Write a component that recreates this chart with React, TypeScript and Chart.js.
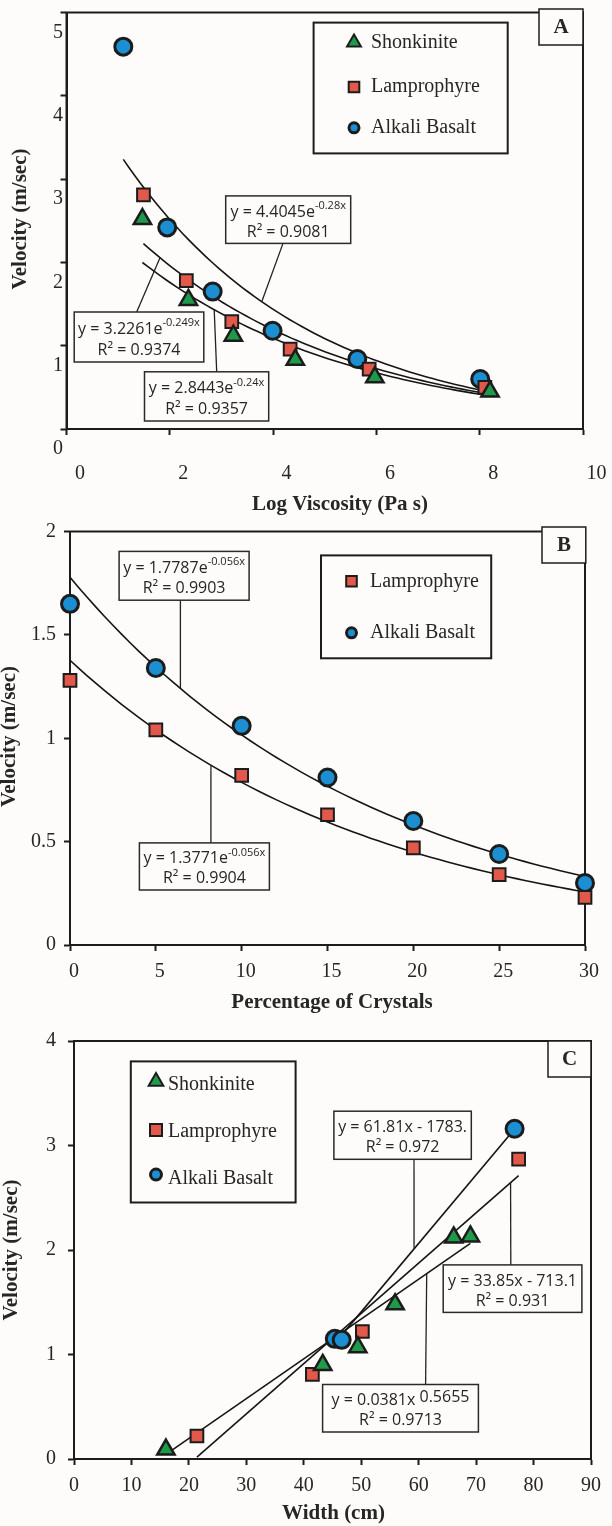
import React, { useEffect, useRef } from 'react';
import { Chart, registerables } from 'chart.js';

Chart.register(...registerables);

const GREEN = '#1f9a4b';
const RED = '#e2584a';
const BLUE = '#1b8fd2';
const INK = '#1c1c1c';
const TEXT = '#262626';
const PAPER = '#fdfcfa';
const SERIF = '"Liberation Serif", "Times New Roman", serif';
const SANS = '"Open Sans", "Liberation Sans", sans-serif';

// ---- Panel A: velocity against log viscosity ----
const viscTicks = [0, 2, 4, 6, 8, 10];
const velTicksA = [0, 1, 2, 3, 4, 5];
const shonkViscX = [1.47, 2.36, 3.23, 4.43, 5.97, 8.2];
const shonkViscV = [2.52, 1.55, 1.12, 0.83, 0.62, 0.45];
const lampViscX = [1.49, 2.32, 3.2, 4.33, 5.86, 8.1];
const lampViscV = [2.81, 1.78, 1.29, 0.96, 0.72, 0.5];
const basaltViscX = [1.1, 1.95, 2.83, 3.99, 5.63, 8.01];
const basaltViscV = [4.59, 2.42, 1.65, 1.18, 0.84, 0.6];
const shonkViscFit = [2.8443, -0.24];
const lampViscFit = [3.2261, -0.249];
const basaltViscFit = [4.4045, -0.28];

// ---- Panel B: velocity against crystal content ----
const crystalTicks = [0, 5, 10, 15, 20, 25, 30];
const velTicksB = [0, 0.5, 1, 1.5, 2];
const crystalPct = [0, 5, 10, 15, 20, 25, 30];
const lampCrystalV = [1.28, 1.04, 0.82, 0.63, 0.47, 0.34, 0.23];
const basaltCrystalV = [1.65, 1.34, 1.06, 0.81, 0.6, 0.44, 0.3];
const lampCrystalFit = [1.3771, -0.056];
const basaltCrystalFit = [1.7787, -0.056];

// ---- Panel C: velocity against dike width ----
const widthTicks = [0, 10, 20, 30, 40, 50, 60, 70, 80, 90];
const velTicksC = [0, 1, 2, 3, 4];
const shonkWidthX = [16, 43.3, 49.4, 55.9, 66.1, 69];
const shonkWidthV = [0.09, 0.9, 1.07, 1.48, 2.12, 2.13];
const lampWidthX = [21.4, 41.5, 50.2, 77.4];
const lampWidthV = [0.22, 0.81, 1.22, 2.87];
const basaltWidthX = [45.4, 46.6, 76.7];
const basaltWidthV = [1.15, 1.14, 3.16];
const shonkWidthFit = [0.0381, -0.5655];

type Fn = (x: number) => number;
const expFn = ([a, b]: number[]): Fn => (x) => a * Math.exp(b * x);
const linFn = ([m, c]: number[]): Fn => (x) => m * x + c;

function leastSquares(xs: number[], ys: number[]): number[] {
  const n = xs.length;
  const mx = xs.reduce((s, v) => s + v, 0) / n;
  const my = ys.reduce((s, v) => s + v, 0) / n;
  let sxy = 0;
  let sxx = 0;
  xs.forEach((x, i) => {
    sxy += (x - mx) * (ys[i] - my);
    sxx += (x - mx) * (x - mx);
  });
  const m = sxy / sxx;
  return [m, my - m * mx];
}
const lampWidthFit = leastSquares(lampWidthX, lampWidthV);
const basaltWidthFit = leastSquares(basaltWidthX, basaltWidthV);

const zip = (xs: number[], ys: number[]) => xs.map((x, i) => ({ x, y: ys[i] }));

function trendPoints(fn: Fn, xs: number[], n = 60) {
  const lo = Math.min(...xs);
  const hi = Math.max(...xs);
  const pts = [];
  for (let i = 0; i <= n; i++) {
    const x = lo + ((hi - lo) * i) / n;
    pts.push({ x, y: fn(x) });
  }
  return pts;
}

type Style = 'triangle' | 'rect' | 'circle';
const markerLook: Record<Style, { r: number; bw: number; color: string }> = {
  triangle: { r: 10, bw: 2.5, color: GREEN },
  rect: { r: 9, bw: 2, color: RED },
  circle: { r: 8.5, bw: 3, color: BLUE },
};

function markerSet(label: string, data: { x: number; y: number }[], style: Style) {
  const m = markerLook[style];
  return {
    type: 'scatter',
    label,
    data,
    showLine: false,
    pointStyle: style,
    pointRadius: m.r,
    pointHoverRadius: m.r,
    pointBackgroundColor: m.color,
    pointBorderColor: INK,
    pointBorderWidth: m.bw,
    clip: false,
    order: 0,
  };
}

function trendSet(pts: { x: number; y: number }[]) {
  return {
    type: 'scatter',
    data: pts,
    showLine: true,
    pointRadius: 0,
    borderColor: '#151515',
    borderWidth: 1.6,
    tension: 0,
    fill: false,
    clip: false,
    order: 1,
  };
}

interface AxisSpec {
  min: number;
  max: number;
  ticks: number[];
  size: number;
  pad: number;
  offset: number;
}

const TICK_SIZE = 20;

function axis(spec: AxisSpec, isX: boolean) {
  return {
    type: 'linear',
    position: isX ? 'bottom' : 'left',
    min: spec.min,
    max: spec.max,
    afterBuildTicks: (s: any) => {
      s.ticks = spec.ticks.map((v) => ({ value: v }));
    },
    afterFit: (s: any) => {
      if (isX) s.height = spec.size;
      else s.width = spec.size;
      s.paddingTop = 0;
      s.paddingBottom = 0;
      s.paddingLeft = 0;
      s.paddingRight = 0;
    },
    grid: {
      display: true,
      drawOnChartArea: false,
      drawTicks: true,
      tickLength: 6,
      tickWidth: 2,
      tickColor: INK,
    },
    border: { display: true, color: INK, width: 2 },
    ticks: {
      font: { family: SERIF, size: TICK_SIZE },
      color: TEXT,
      padding: spec.pad,
      labelOffset: spec.offset,
      maxRotation: 0,
      autoSkip: false,
      callback: (v: number) => String(v),
    },
    title: { display: false },
  };
}

type Box = [number, number, number, number];
interface EqNote {
  box: Box;
  main: string;
  sup?: string;
  supSize?: number;
  supRise?: number;
  r2: string;
  from: [number, number];
  fn: Fn;
  at: number;
}
interface LegendItem {
  style: Style;
  label: string;
  y: number;
  dy?: number;
  size: number;
}
interface Deco {
  letter: { text: string; box: Box };
  legend: { box: Box; markerX: number; textX: number; items: LegendItem[] };
  eqs: EqNote[];
  xTitle: { text: string; x: number; y: number };
  yTitle: { text: string; x: number; y: number };
}

function drawMarker(ctx: CanvasRenderingContext2D, style: Style, x: number, y: number, size: number) {
  const m = markerLook[style];
  ctx.beginPath();
  if (style === 'triangle') {
    const h = size * Math.sin(Math.PI / 3);
    ctx.moveTo(x, y - size);
    ctx.lineTo(x + h, y + size / 2);
    ctx.lineTo(x - h, y + size / 2);
    ctx.closePath();
  } else if (style === 'rect') {
    ctx.rect(x - size, y - size, size * 2, size * 2);
  } else {
    ctx.arc(x, y, size, 0, Math.PI * 2);
  }
  ctx.fillStyle = m.color;
  ctx.fill();
  ctx.lineWidth = style === 'circle' ? 3 : 2;
  ctx.lineJoin = 'miter';
  ctx.strokeStyle = INK;
  ctx.stroke();
}

const EQ_SIZE = 16;
const EQ_SUP = 11;

function makeDeco(d: Deco) {
  return {
    id: 'deco',
    beforeDatasetsDraw(chart: any) {
      const { ctx, chartArea: ca } = chart;
      ctx.save();
      ctx.strokeStyle = INK;
      ctx.lineWidth = 2;
      ctx.strokeRect(ca.left, ca.top, ca.right - ca.left, ca.bottom - ca.top);
      // leader lines from the equation boxes to their trend lines
      ctx.lineWidth = 1.3;
      ctx.strokeStyle = '#222';
      d.eqs.forEach((e) => {
        const tx = chart.scales.x.getPixelForValue(e.at);
        const ty = chart.scales.y.getPixelForValue(e.fn(e.at));
        ctx.beginPath();
        ctx.moveTo(e.from[0], e.from[1]);
        ctx.lineTo(tx, ty);
        ctx.stroke();
      });
      ctx.restore();
    },
    afterDraw(chart: any) {
      const ctx: CanvasRenderingContext2D = chart.ctx;
      ctx.save();

      // panel letter
      const [lx1, ly1, lx2, ly2] = d.letter.box;
      ctx.fillStyle = PAPER;
      ctx.fillRect(lx1, ly1, lx2 - lx1, ly2 - ly1);
      ctx.strokeStyle = INK;
      ctx.lineWidth = 1.5;
      ctx.strokeRect(lx1, ly1, lx2 - lx1, ly2 - ly1);
      ctx.fillStyle = TEXT;
      ctx.font = `bold 21px ${SERIF}`;
      ctx.textAlign = 'center';
      ctx.textBaseline = 'middle';
      ctx.fillText(d.letter.text, (lx1 + lx2) / 2, (ly1 + ly2) / 2 + 1);

      // legend
      const lg = d.legend;
      const [gx1, gy1, gx2, gy2] = lg.box;
      ctx.fillStyle = PAPER;
      ctx.fillRect(gx1, gy1, gx2 - gx1, gy2 - gy1);
      ctx.strokeStyle = INK;
      ctx.lineWidth = 2;
      ctx.strokeRect(gx1, gy1, gx2 - gx1, gy2 - gy1);
      lg.items.forEach((it) => {
        drawMarker(ctx, it.style, lg.markerX, it.y + (it.dy || 0), it.size);
        ctx.fillStyle = TEXT;
        ctx.font = `20px ${SERIF}`;
        ctx.textAlign = 'left';
        ctx.textBaseline = 'middle';
        ctx.fillText(it.label, lg.textX, it.y);
      });

      // trend-line equations
      d.eqs.forEach((e) => {
        const [x1, y1, x2, y2] = e.box;
        ctx.fillStyle = PAPER;
        ctx.fillRect(x1, y1, x2 - x1, y2 - y1);
        ctx.strokeStyle = '#2a2a2a';
        ctx.lineWidth = 1.5;
        ctx.strokeRect(x1, y1, x2 - x1, y2 - y1);
        const cx = (x1 + x2) / 2;
        const h = y2 - y1;
        const mainFont = `${EQ_SIZE}px ${SANS}`;
        const supFont = `${e.supSize || EQ_SUP}px ${SANS}`;
        ctx.font = mainFont;
        const wMain = ctx.measureText(e.main).width;
        ctx.font = supFont;
        const wSup = e.sup ? ctx.measureText(e.sup).width : 0;
        const start = cx - (wMain + wSup) / 2;
        const l1 = y1 + h * 0.34;
        ctx.fillStyle = TEXT;
        ctx.textBaseline = 'middle';
        ctx.textAlign = 'left';
        ctx.font = mainFont;
        ctx.fillText(e.main, start, l1);
        if (e.sup) {
          ctx.font = supFont;
          ctx.fillText(e.sup, start + wMain, l1 - (e.supRise ?? 6));
        }
        ctx.font = mainFont;
        ctx.textAlign = 'center';
        ctx.fillText(e.r2, cx, y1 + h * 0.76);
      });

      // axis titles
      ctx.fillStyle = TEXT;
      ctx.font = `bold 21px ${SERIF}`;
      ctx.textAlign = 'center';
      ctx.textBaseline = 'middle';
      ctx.fillText(d.xTitle.text, d.xTitle.x, d.xTitle.y);
      ctx.translate(d.yTitle.x, d.yTitle.y);
      ctx.rotate(-Math.PI / 2);
      ctx.fillText(d.yTitle.text, 0, 0);

      ctx.restore();
    },
  };
}

interface PanelSpec {
  height: number;
  padding: { top: number; right: number };
  x: AxisSpec;
  y: AxisSpec;
  datasets: any[];
  deco: Deco;
}

function Panel({ top, spec }: { top: number; spec: PanelSpec }) {
  const ref = useRef<HTMLCanvasElement>(null);
  useEffect(() => {
    const chart = new Chart(ref.current as HTMLCanvasElement, {
      type: 'scatter',
      data: { datasets: spec.datasets },
      options: {
        responsive: false,
        animation: false,
        devicePixelRatio: 1,
        layout: { padding: { left: 0, bottom: 0, top: spec.padding.top, right: spec.padding.right } },
        plugins: { legend: { display: false }, tooltip: { enabled: false } },
        events: [],
        scales: { x: axis(spec.x, true), y: axis(spec.y, false) },
      } as any,
      plugins: [makeDeco(spec.deco)],
    } as any);
    return () => chart.destroy();
  }, []);
  return (
    <canvas
      ref={ref}
      width={612}
      height={spec.height}
      style={{ position: 'absolute', left: 0, top, width: 612, height: spec.height }}
    />
  );
}

const fA = { shonk: expFn(shonkViscFit), lamp: expFn(lampViscFit), basalt: expFn(basaltViscFit) };
const panelA: PanelSpec = {
  height: 520,
  padding: { top: 9, right: 29 },
  x: { min: 0, max: 10, ticks: viscTicks, size: 91, pad: 27, offset: 13.5 },
  y: { min: 0, max: 5, ticks: velTicksA, size: 66.5, pad: -2.5, offset: 20 },
  datasets: [
    markerSet('Shonkinite', zip(shonkViscX, shonkViscV), 'triangle'),
    markerSet('Lamprophyre', zip(lampViscX, lampViscV), 'rect'),
    markerSet('Alkali Basalt', zip(basaltViscX, basaltViscV), 'circle'),
    trendSet(trendPoints(fA.shonk, shonkViscX)),
    trendSet(trendPoints(fA.lamp, lampViscX)),
    trendSet(trendPoints(fA.basalt, basaltViscX)),
  ],
  deco: {
    letter: { text: 'A', box: [539, 9, 583, 45] },
    legend: {
      box: [313.6, 22.6, 507.7, 153.4],
      markerX: 354,
      textX: 371,
      items: [
        { style: 'triangle', label: 'Shonkinite', y: 42.5, size: 8 },
        { style: 'rect', label: 'Lamprophyre', y: 87, size: 5.3 },
        { style: 'circle', label: 'Alkali Basalt', y: 127.8, size: 5 },
      ],
    },
    eqs: [
      { box: [225.7, 195.9, 350.7, 243.4], main: 'y = 4.4045e', sup: '-0.28x', r2: 'R² = 0.9081', from: [283, 243.4], fn: fA.basalt, at: 3.78 },
      { box: [74.2, 312, 203.8, 362], main: 'y = 3.2261e', sup: '-0.249x', r2: 'R² = 0.9374', from: [136.7, 312], fn: fA.lamp, at: 1.81 },
      { box: [144.5, 371.8, 268.7, 421], main: 'y = 2.8443e', sup: '-0.24x', r2: 'R² = 0.9357', from: [216.7, 371.8], fn: fA.shonk, at: 2.86 },
    ],
    xTitle: { text: 'Log Viscosity (Pa s)', x: 340, y: 505 },
    yTitle: { text: 'Velocity (m/sec)', x: 21, y: 219 },
  },
};

const fB = { lamp: expFn(lampCrystalFit), basalt: expFn(basaltCrystalFit) };
const panelB: PanelSpec = {
  height: 495,
  padding: { top: 8, right: 27 },
  x: { min: 0, max: 30, ticks: crystalTicks, size: 70, pad: 9, offset: 4 },
  y: { min: 0, max: 2, ticks: velTicksB, size: 70, pad: 8, offset: 0 },
  datasets: [
    markerSet('Lamprophyre', zip(crystalPct, lampCrystalV), 'rect'),
    markerSet('Alkali Basalt', zip(crystalPct, basaltCrystalV), 'circle'),
    trendSet(trendPoints(fB.lamp, crystalPct)),
    trendSet(trendPoints(fB.basalt, crystalPct)),
  ],
  deco: {
    letter: { text: 'B', box: [542, 7, 585.8, 43] },
    legend: {
      box: [321, 35.4, 491.2, 138.3],
      markerX: 351.5,
      textX: 370,
      items: [
        { style: 'rect', label: 'Lamprophyre', y: 61.3, size: 5.3 },
        { style: 'circle', label: 'Alkali Basalt', y: 112.8, size: 5 },
      ],
    },
    eqs: [
      { box: [119.1, 31.4, 249.1, 80.2], main: 'y = 1.7787e', sup: '-0.056x', r2: 'R² = 0.9903', from: [180.4, 80.2], fn: fB.basalt, at: 6.43 },
      { box: [139.4, 322.9, 269.4, 370], main: 'y = 1.3771e', sup: '-0.056x', r2: 'R² = 0.9904', from: [210.9, 322.9], fn: fB.lamp, at: 8.21 },
    ],
    xTitle: { text: 'Percentage of Crystals', x: 332, y: 483 },
    yTitle: { text: 'Velocity (m/sec)', x: 10, y: 216.5 },
  },
};

const fC = { shonk: linFn(shonkWidthFit), lamp: linFn(lampWidthFit), basalt: linFn(basaltWidthFit) };
const panelC: PanelSpec = {
  height: 511,
  padding: { top: 26, right: 21 },
  x: { min: 0, max: 90, ticks: widthTicks, size: 67, pad: 9, offset: 0 },
  y: { min: 0, max: 4, ticks: velTicksC, size: 74, pad: 12, offset: 0 },
  datasets: [
    markerSet('Shonkinite', zip(shonkWidthX, shonkWidthV), 'triangle'),
    markerSet('Lamprophyre', zip(lampWidthX, lampWidthV), 'rect'),
    markerSet('Alkali Basalt', zip(basaltWidthX, basaltWidthV), 'circle'),
    trendSet(trendPoints(fC.shonk, shonkWidthX, 1)),
    trendSet(trendPoints(fC.lamp, lampWidthX, 1)),
    trendSet(trendPoints(fC.basalt, basaltWidthX, 1)),
  ],
  deco: {
    letter: { text: 'C', box: [548, 26, 591, 62] },
    legend: {
      box: [130.8, 46.4, 295.6, 187.5],
      markerX: 156,
      textX: 168,
      items: [
        { style: 'triangle', label: 'Shonkinite', y: 69.6, dy: -3, size: 8.5 },
        { style: 'rect', label: 'Lamprophyre', y: 117, dy: -2, size: 6 },
        { style: 'circle', label: 'Alkali Basalt', y: 163.6, dy: -4, size: 5.5 },
      ],
    },
    eqs: [
      { box: [333.9, 96.2, 471.3, 144.3], main: 'y = 61.81x - 1783.', r2: 'R² = 0.972', from: [414, 144.3], fn: fC.basalt, at: 59.2 },
      { box: [443.2, 249.9, 581.9, 297.4], main: 'y = 33.85x - 713.1', r2: 'R² = 0.931', from: [510.8, 249.9], fn: fC.lamp, at: 76.0 },
      { box: [322.6, 369.5, 478.4, 417], main: 'y = 0.0381x', sup: ' 0.5655', supSize: 16, supRise: 3, r2: 'R² = 0.9713', from: [425.6, 369.5], fn: fC.shonk, at: 61.4 },
    ],
    xTitle: { text: 'Width (cm)', x: 333.5, y: 499 },
    yTitle: { text: 'Velocity (m/sec)', x: 12, y: 235 },
  },
};

export default function App() {
  return (
    <div
      style={{
        position: 'absolute',
        left: 0,
        top: 0,
        width: 612,
        height: 1526,
        background: PAPER,
        overflow: 'hidden',
      }}
    >
      <Panel top={0} spec={panelA} />
      <Panel top={520} spec={panelB} />
      <Panel top={1015} spec={panelC} />
    </div>
  );
}
